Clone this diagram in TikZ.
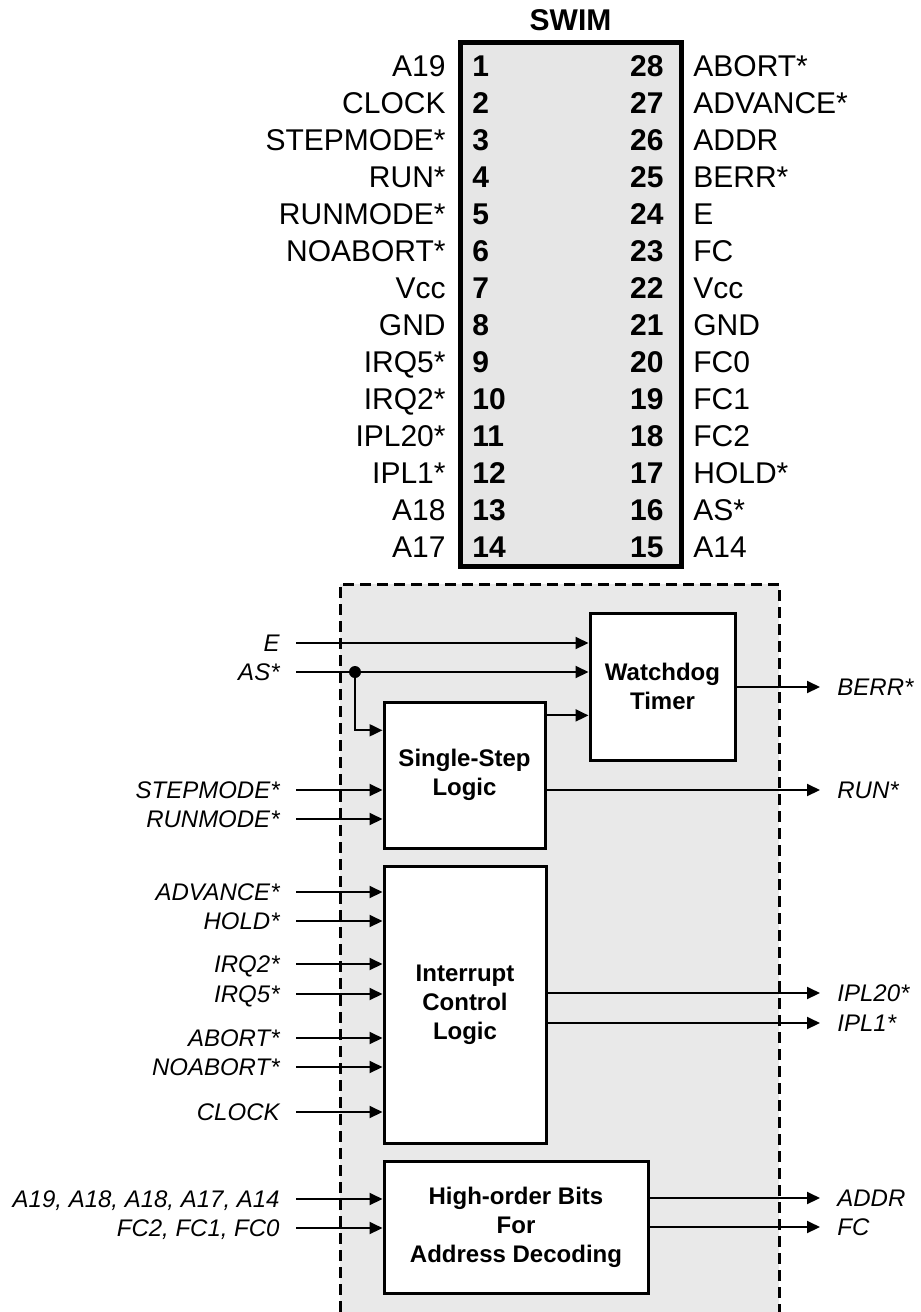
\documentclass[tikz,border=0pt]{standalone}
\usepackage{fontspec}
\setmainfont{Liberation Sans}
\usepackage{xcolor}
\usetikzlibrary{arrows.meta,positioning,calc}
\definecolor{SwimChip}{HTML}{E6E6E6}
\definecolor{SwimPanel}{HTML}{E9E9E9}

\begin{document}
\begin{tikzpicture}[x=0.5pt,y=-0.5pt,
  pinlbl/.style={font=\fontsize{15}{18}\selectfont,inner sep=0pt,text height=10.7pt,text depth=0pt},
  pinnum/.style={pinlbl,font=\fontsize{15}{18}\selectfont\bfseries},
  block/.style={draw,line width=1.5pt,fill=white,align=center,inner sep=0pt,font=\fontsize{12}{14.5}\selectfont\bfseries},
  sig/.style={font=\fontsize{12}{14}\selectfont\itshape,inner sep=0pt,text height=8.6pt,text depth=0pt},
  wire/.style={line width=1pt,-{Triangle[length=6.5pt,width=6pt]}}
]
\useasboundingbox (0,0) rectangle (921,1312);
% chip
\node[draw,line width=2.5pt,fill=SwimChip,minimum width=110.5pt,minimum height=262pt,inner sep=0pt] (chip) at (570.5,304) {};
\node[pinnum,above=4.5pt of chip.north] (title) {SWIM};
\foreach \l/\r [count=\i] in {A19/ABORT*,CLOCK/ADVANCE*,STEPMODE*/ADDR,RUN*/BERR*,RUNMODE*/E,NOABORT*/FC,Vcc/Vcc,GND/GND,IRQ5*/FC0,IRQ2*/FC1,IPL20*/FC2,IPL1*/HOLD*,A18/AS*,A17/A14}{
  \pgfmathsetmacro\py{29+37*\i}
  \pgfmathtruncatemacro\j{29-\i}
  \node[pinlbl,anchor=east] (pl\i) at (446,\py) {\l};
  \node[pinnum,anchor=west] (pn\i) at (472,\py) {\i};
  \node[pinnum,anchor=east] (rn\i) at (664,\py) {\j};
  \node[pinlbl,anchor=west] (pr\i) at (693,\py) {\r};
}
% block diagram
\fill[SwimPanel] (340,584) rectangle (779,1312);
\draw[line width=1.5pt,dash pattern=on 5.5pt off 3pt] (340,1312) -- (340,584) -- (779,584) -- (779,1312);
\node[block,minimum width=72.5pt,minimum height=73.5pt] (wdt) at (662.5,686.5) {Watchdog\\Timer};
\node[block,minimum width=80.5pt,minimum height=73pt] (ssl) at (464.5,775) {Single-Step\\Logic};
\node[block,minimum width=81pt,minimum height=138.5pt,below=7.5pt of ssl.south west,anchor=north west] (icl) {Interrupt\\Control\\Logic};
\node[block,minimum width=132pt,minimum height=66pt,below=7.5pt of icl.south west,anchor=north west] (hob) {High-order Bits\\For\\Address Decoding};
% inputs
\foreach \y/\t/\b [count=\i] in {643/E/wdt,672/AS*/wdt,790/STEPMODE*/ssl,819/RUNMODE*/ssl,
  892/ADVANCE*/icl,921/HOLD*/icl,964/IRQ2*/icl,994/IRQ5*/icl,1038/ABORT*/icl,1067/NOABORT*/icl,1112/CLOCK/icl,
  1199/{A19, A18, A18, A17, A14}/hob,1228/{FC2, FC1, FC0}/hob}{
  \node[sig,anchor=east] (in\i) at (280,\y) {\t};
  \draw[wire,shorten <=8pt] (in\i) -- (in\i -| \b.west);
}
% AS* branch into single-step
\coordinate (asj) at (in2 -| 355,0);
\coordinate (sslin) at ($(ssl.north west)!0.2!(ssl.south west)$);
\coordinate (sslout) at ($(ssl.north east)!0.1!(ssl.south east)$);
\fill (asj) circle (3pt);
\draw[wire] (asj) |- (sslin);
\draw[wire] (sslout) -- (sslout -| wdt.west);
% outputs
\foreach \y/\t/\b [count=\i] in {687/BERR*/wdt,790/RUN*/ssl,993/IPL20*/icl,1023/IPL1*/icl,1198/ADDR/hob,1227/FC/hob}{
  \node[sig,anchor=west] (out\i) at (837,\y) {\t};
  \draw[wire,shorten >=8.5pt] (out\i -| \b.east) -- (out\i);
}
\end{tikzpicture}
\end{document}
